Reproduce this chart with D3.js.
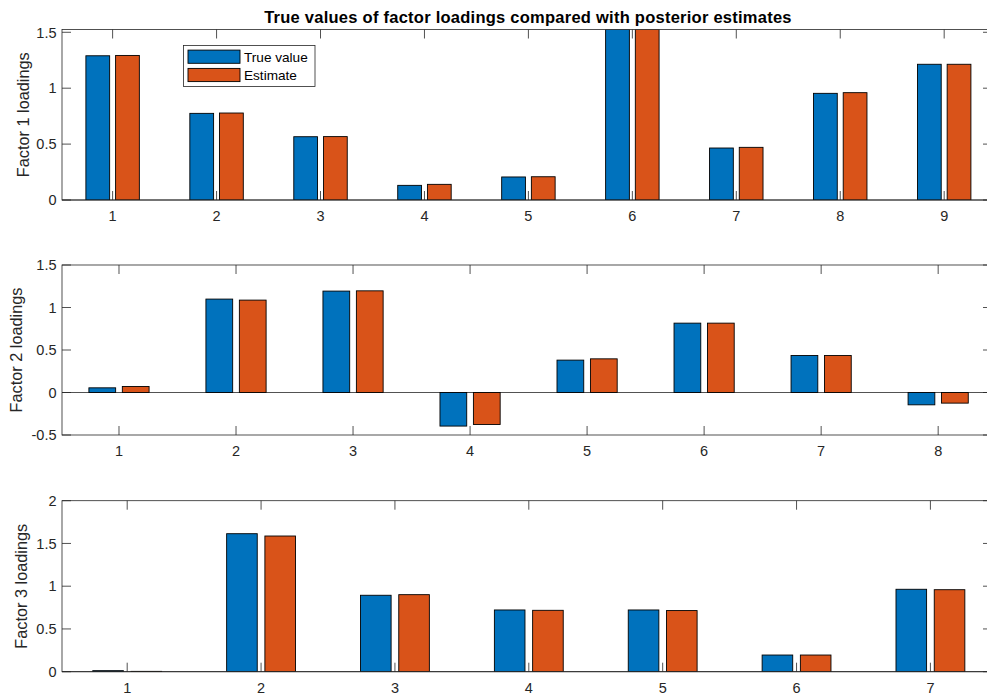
<!DOCTYPE html>
<html>
<head>
<meta charset="utf-8">
<script src="https://cdn.jsdelivr.net/npm/d3@7"></script>
<style>
  html, body { margin: 0; padding: 0; background: #fff; }
  svg { display: block; font-family: "Liberation Sans", Arial, Helvetica, sans-serif; }
</style>
</head>
<body>
<svg id="chart" width="987" height="696"></svg>
<script>
// Factor loadings: true values vs posterior estimates, one panel per factor
const seriesNames = ["True value", "Estimate"];
const seriesColors = ["#0072BD", "#D95319"];

const factor1Items = [1, 2, 3, 4, 5, 6, 7, 8, 9];
const factor1True = [1.29, 0.775, 0.566, 0.131, 0.206, 1.53, 0.465, 0.954, 1.214];
const factor1Est  = [1.293, 0.778, 0.567, 0.140, 0.208, 1.53, 0.471, 0.960, 1.214];
const factor1Ticks = [0, 0.5, 1, 1.5];

const factor2Items = [1, 2, 3, 4, 5, 6, 7, 8];
const factor2True = [0.055, 1.099, 1.193, -0.395, 0.381, 0.816, 0.435, -0.145];
const factor2Est  = [0.071, 1.087, 1.196, -0.376, 0.396, 0.816, 0.435, -0.125];
const factor2Ticks = [-0.5, 0, 0.5, 1, 1.5];

const factor3Items = [1, 2, 3, 4, 5, 6, 7];
const factor3True = [0.012, 1.614, 0.894, 0.722, 0.722, 0.195, 0.964];
const factor3Est  = [0.004, 1.587, 0.901, 0.718, 0.715, 0.195, 0.959];
const factor3Ticks = [0, 0.5, 1, 1.5, 2];

const titleText = "True values of factor loadings compared with posterior estimates";

const svg = d3.select("#chart");
const axisColor = "#262626";
const left = 62, right = 992, tickLen = 9;

// grouped-bar geometry (two series per group)
const groupWidth = Math.min(0.8, 2 / (2 + 1.5));
const barWidth = groupWidth / 2 * 0.8;
const offsets = [-groupWidth / 4, groupWidth / 4];

const panels = [
  { items: factor1Items, values: [factor1True, factor1Est], ticks: factor1Ticks,
    ylim: [0, 1.525], top: 29.5, bottom: 200, label: "Factor 1 loadings", labelX: 28.5 },
  { items: factor2Items, values: [factor2True, factor2Est], ticks: factor2Ticks,
    ylim: [-0.5, 1.5], top: 265, bottom: 435, label: "Factor 2 loadings", labelX: 21.5 },
  { items: factor3Items, values: [factor3True, factor3Est], ticks: factor3Ticks,
    ylim: [0, 2], top: 500.7, bottom: 671.7, label: "Factor 3 loadings", labelX: 27 }
];

panels.forEach((p, pi) => {
  const n = p.items.length;
  const x = d3.scaleLinear().domain([0.513, n + 0.46]).range([left, right]);
  const y = d3.scaleLinear().domain(p.ylim).range([p.bottom, p.top]);
  const g = svg.append("g");

  const clipId = "clip" + pi;
  g.append("clipPath").attr("id", clipId)
    .append("rect").attr("x", left).attr("y", p.top)
    .attr("width", right - left).attr("height", p.bottom - p.top);

  // tick marks (drawn beneath the bars)
  const ticksG = g.append("g").attr("stroke", axisColor).attr("stroke-width", 0.8);
  p.items.forEach(v => {
    ticksG.append("line").attr("x1", x(v)).attr("x2", x(v))
      .attr("y1", p.bottom).attr("y2", p.bottom - tickLen);
    ticksG.append("line").attr("x1", x(v)).attr("x2", x(v))
      .attr("y1", p.top).attr("y2", p.top + tickLen);
  });
  p.ticks.forEach(v => {
    ticksG.append("line").attr("x1", left).attr("x2", left + tickLen)
      .attr("y1", y(v)).attr("y2", y(v));
    ticksG.append("line").attr("x1", right).attr("x2", right - tickLen)
      .attr("y1", y(v)).attr("y2", y(v));
  });

  // baseline at zero
  g.append("line").attr("x1", left).attr("x2", right)
    .attr("y1", y(0)).attr("y2", y(0))
    .attr("stroke", axisColor).attr("stroke-width", 0.8);

  // bars
  const barsG = g.append("g").attr("clip-path", `url(#${clipId})`);
  p.values.forEach((vals, si) => {
    barsG.selectAll(null).data(vals).enter().append("rect")
      .attr("x", (d, i) => x(p.items[i] + offsets[si] - barWidth / 2))
      .attr("width", (d, i) => x(p.items[i] + offsets[si] + barWidth / 2) - x(p.items[i] + offsets[si] - barWidth / 2))
      .attr("y", d => Math.min(y(d), y(0)))
      .attr("height", d => Math.abs(y(d) - y(0)))
      .attr("fill", seriesColors[si])
      .attr("stroke", "#000").attr("stroke-width", 0.9);
  });

  // axes box
  g.append("rect").attr("x", left).attr("y", p.top)
    .attr("width", right - left).attr("height", p.bottom - p.top)
    .attr("fill", "none").attr("stroke", axisColor).attr("stroke-width", 0.8);

  // tick labels
  g.selectAll(null).data(p.items).enter().append("text")
    .attr("x", d => x(d)).attr("y", p.bottom + 21)
    .attr("text-anchor", "middle").attr("font-size", 14.5).attr("fill", axisColor)
    .text(d => d);
  g.selectAll(null).data(p.ticks).enter().append("text")
    .attr("x", 56.5).attr("y", d => y(d)).attr("dy", "0.36em")
    .attr("text-anchor", "end").attr("font-size", 14.5).attr("fill", axisColor)
    .text(d => String(d));

  // y-axis label
  g.append("text")
    .attr("transform", `translate(${p.labelX},${(p.top + p.bottom) / 2}) rotate(-90)`)
    .attr("text-anchor", "middle").attr("font-size", 16.3).attr("fill", axisColor)
    .text(p.label);
});

// title
svg.append("text").attr("x", 528).attr("y", 22.5)
  .attr("text-anchor", "middle").attr("font-size", 16.5).attr("font-weight", "bold")
  .attr("letter-spacing", 0.25)
  .attr("fill", "#000").text(titleText);

// legend
const lg = svg.append("g");
lg.append("rect").attr("x", 183.5).attr("y", 45.5).attr("width", 131.5).attr("height", 41)
  .attr("fill", "#fff").attr("stroke", axisColor).attr("stroke-width", 0.8);
seriesNames.forEach((name, i) => {
  const cy = 56.7 + i * 18.3;
  lg.append("rect").attr("x", 188).attr("y", cy - 6.6).attr("width", 52).attr("height", 13.2)
    .attr("fill", seriesColors[i]).attr("stroke", "#000").attr("stroke-width", 0.9);
  lg.append("text").attr("x", 244).attr("y", cy).attr("dy", "0.36em")
    .attr("font-size", 13.6).attr("fill", "#000").text(name);
});
</script>
</body>
</html>
